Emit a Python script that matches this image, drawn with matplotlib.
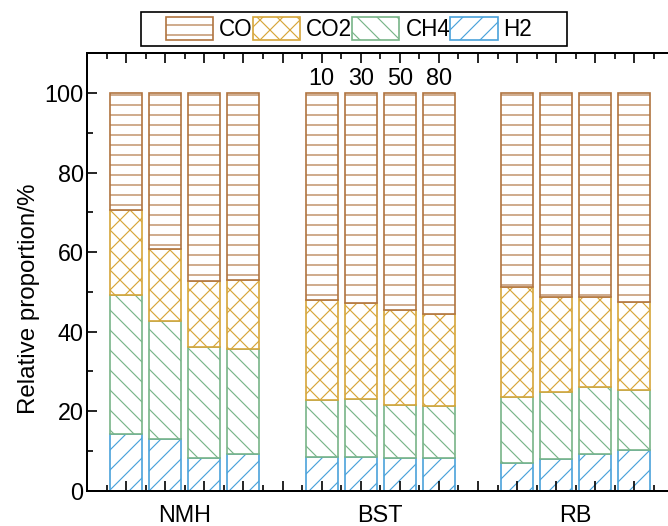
import matplotlib
matplotlib.use("Agg")
import matplotlib.pyplot as plt
from matplotlib.patches import Patch, Rectangle
import numpy as np

plt.rcParams['font.family'] = ['Liberation Sans', 'DejaVu Sans']
plt.rcParams['hatch.linewidth'] = 0.7

groups = ["NMH", "BST", "RB"]
bst_labels = ["10", "30", "50", "80"]
positions = [1, 2, 3, 4, 6, 7, 8, 9, 11, 12, 13, 14]

h2 = [14.1, 13.0, 8.2, 9.2, 8.4, 8.4, 8.1, 8.1, 6.9, 7.8, 9.2, 10.2]
ch4 = [35.0, 29.6, 27.9, 26.4, 14.4, 14.7, 13.3, 13.1, 16.6, 17.0, 16.8, 15.2]
co2 = [21.4, 18.1, 16.5, 17.3, 25.2, 24.2, 24.1, 23.3, 27.6, 23.9, 22.7, 22.1]
co = [29.5, 39.3, 47.4, 47.1, 52.0, 52.7, 54.5, 55.5, 48.9, 51.3, 51.3, 52.5]

DPI = 120
W, H = 668, 526
fig = plt.figure(figsize=(W / DPI, H / DPI), dpi=DPI)
ax = fig.add_axes([87 / W, 1 - 490.5 / H, (673.5 - 87) / W, (490.5 - 53.3) / H])

c_co = '#B07440'
c_co2 = '#D6A63A'
c_ch4 = '#78B488'
c_h2 = '#4AA2DA'

series = [("H2", h2, c_h2, '//'), ("CH4", ch4, c_ch4, '\\\\'),
          ("CO2", co2, c_co2, 'xx'), ("CO", co, c_co, '--')]
bottom = np.zeros(len(positions))
for name, vals, col, hatch in series:
    ax.bar(positions, vals, width=0.82, bottom=bottom, facecolor='white',
           edgecolor=col, hatch=hatch, linewidth=1.0)
    bottom += np.array(vals)

ax.set_xlim(0, 15)
ax.set_ylim(0, 110)
ax.set_yticks([0, 20, 40, 60, 80, 100])
ax.set_yticks(np.arange(10, 110, 20), minor=True)
ax.set_xticks(np.arange(0, 16, 1))
ax.set_xticks(np.arange(0.5, 15, 1), minor=True)
ax.set_xticklabels([])
ax.tick_params(axis='both', which='major', direction='in', length=6, width=1.0,
               labelsize=14, pad=2)
ax.tick_params(axis='both', which='minor', direction='in', length=3.5, width=1.0)
ax.tick_params(axis='x', which='both', top=True)
ax.tick_params(axis='y', which='both', right=False)
ax.spines['right'].set_visible(False)
for s in ['left', 'bottom', 'top']:
    ax.spines[s].set_linewidth(1.2)

ax.set_ylabel("Relative proportion/%", fontsize=14.5)
ax.yaxis.set_label_coords((40 - 87) / 586.5, (490.5 - 299) / 437.2)

for g, x in zip(groups, [2.5, 7.5, 12.5]):
    ax.text(x, -7.9, g, ha='center', va='baseline', fontsize=14)

for lab, x in zip(bst_labels, positions[4:8]):
    ax.text(x, 102.0, lab, ha='center', va='baseline', fontsize=14)

handles = [Patch(facecolor='white', edgecolor=c_co, hatch='--', linewidth=1.0),
           Patch(facecolor='white', edgecolor=c_co2, hatch='xx', linewidth=1.0),
           Patch(facecolor='white', edgecolor=c_ch4, hatch='\\\\', linewidth=1.0),
           Patch(facecolor='white', edgecolor=c_h2, hatch='//', linewidth=1.0)]
leg = fig.legend(handles, ["CO", "CO2", "CH4", "H2"], ncol=4,
                 loc='center', bbox_to_anchor=(349 / W, 1 - 29 / H),
                 frameon=False, fontsize=13.5,
                 handlelength=2.1, handleheight=1.2, columnspacing=0.0,
                 handletextpad=0.27, borderpad=0.35, borderaxespad=0.0)
fig.add_artist(Rectangle((141 / W, 1 - 46 / H), (567 - 141) / W, 34 / H,
                         transform=fig.transFigure, facecolor='none',
                         edgecolor='black', linewidth=1.0))

fig.savefig("out.png", dpi=DPI)
